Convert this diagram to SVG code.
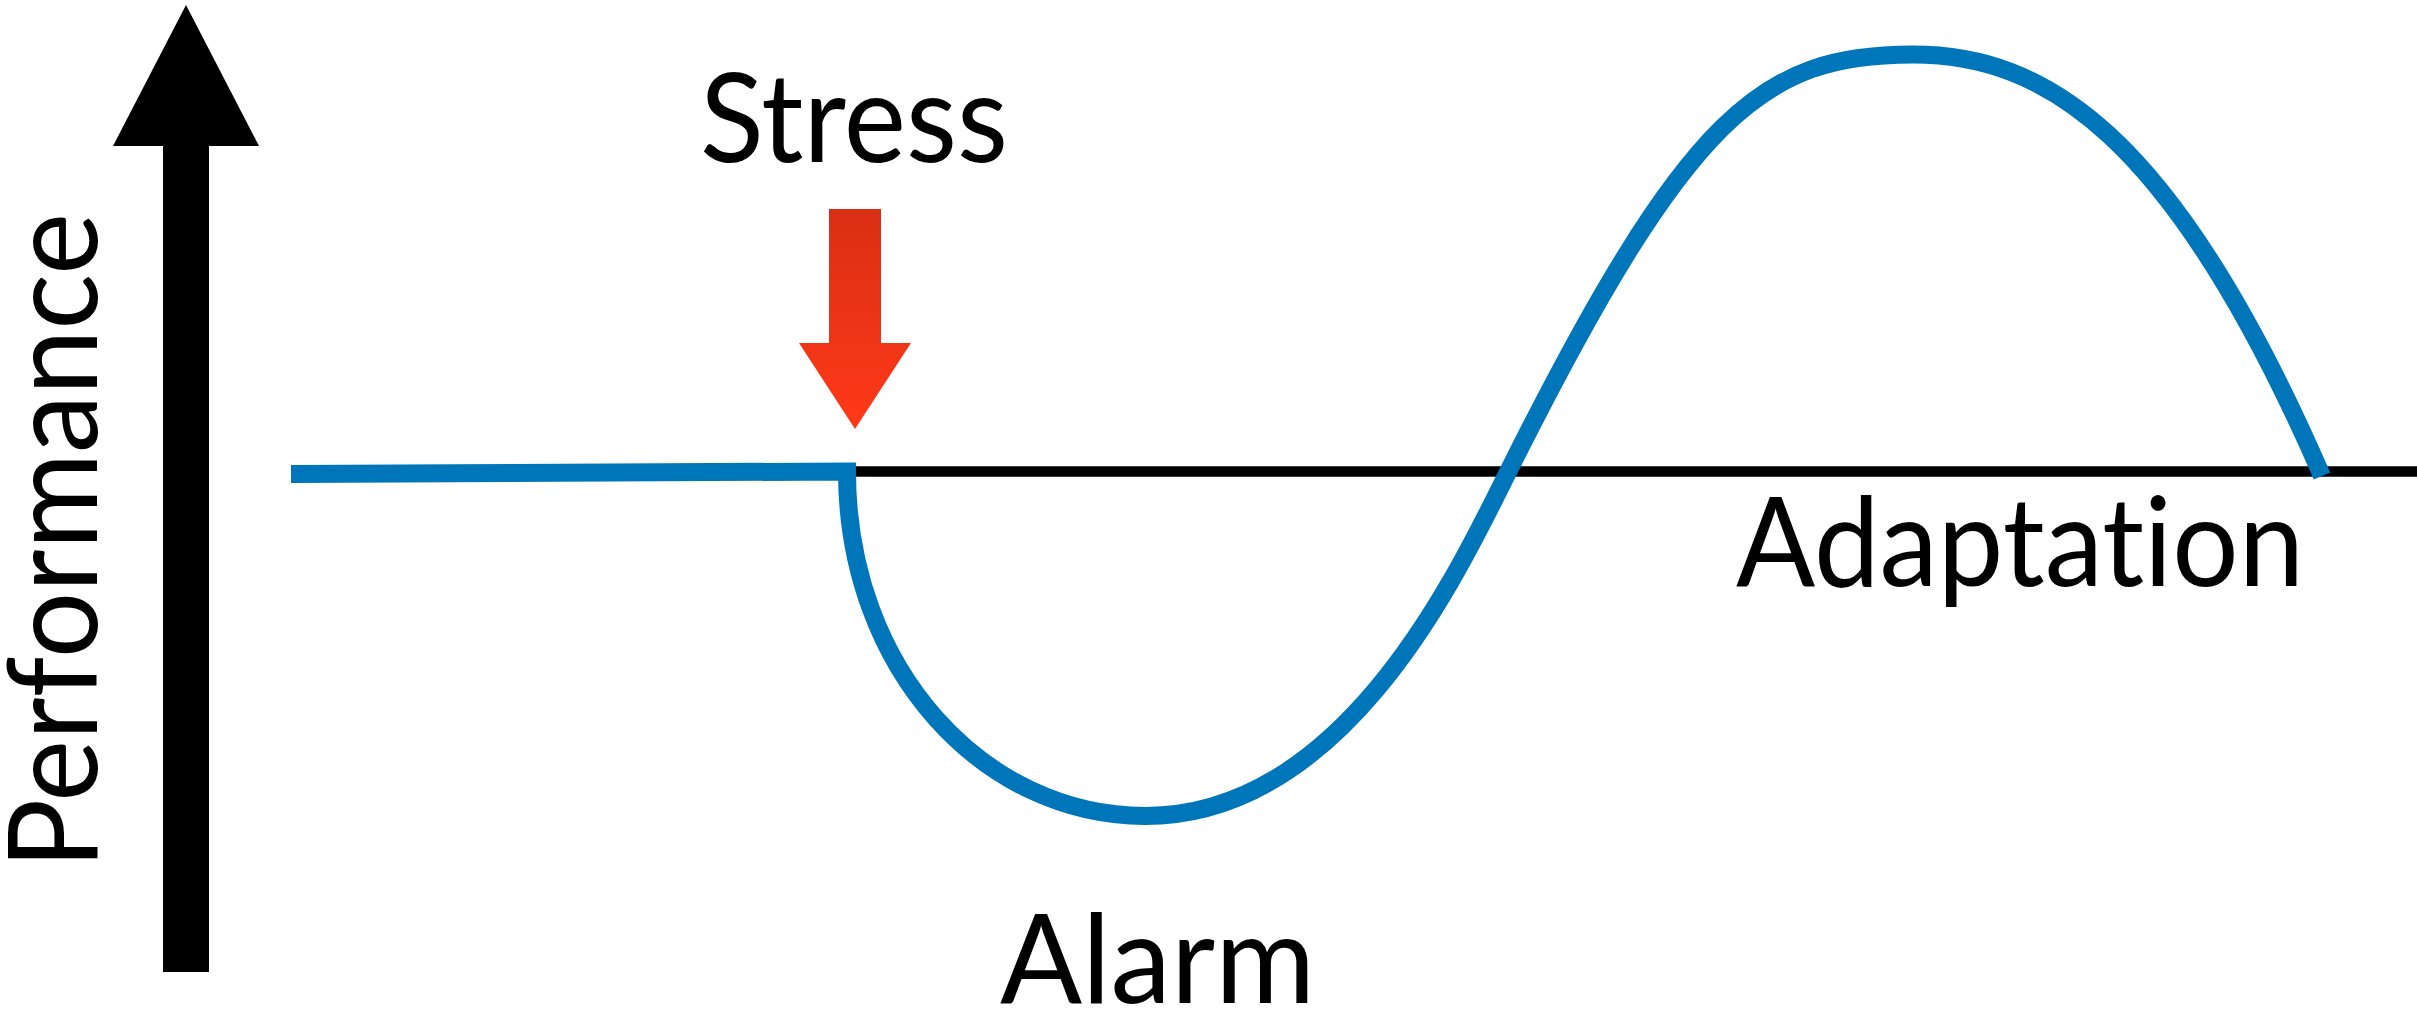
<svg xmlns="http://www.w3.org/2000/svg" width="2417" height="1015" viewBox="0 0 2417 1015">
  <defs>
    <linearGradient id="redGrad" gradientUnits="userSpaceOnUse" x1="0" y1="209" x2="0" y2="429">
      <stop offset="0" stop-color="#D92F14"/>
      <stop offset="1" stop-color="#FF3918"/>
    </linearGradient>
    <style>
      .lbl { font-family: Lato, "Liberation Sans", sans-serif; font-size: 125px; fill: #000; font-variant-ligatures: none; font-feature-settings: "liga" 0, "clig" 0; }
      .curve { fill: none; stroke: #0076BA; stroke-width: 18; stroke-linejoin: miter; stroke-linecap: butt; }
      .axisline { stroke: #000; stroke-width: 10.5; }
    </style>
  </defs>
  <rect x="0" y="0" width="2417" height="1015" fill="#fff"/>

  <g id="performance-axis">
    <polygon points="163,972 163,146 113,146 186,5 259,146 209,146 209,972" fill="#000"/>
    <text class="lbl" transform="translate(97,863) rotate(-90)" x="-6" y="0" textLength="656" lengthAdjust="spacingAndGlyphs">Performance</text>
  </g>

  <g id="stress">
    <text class="lbl" x="700" y="162" textLength="308" lengthAdjust="spacingAndGlyphs">Stress</text>
    <polygon points="829,209 881,209 881,343 911,343 855,429 799,343 829,343" fill="url(#redGrad)"/>
  </g>

  <g id="baseline">
    <line class="axisline" x1="856" y1="471.5" x2="2417" y2="471.5"/>
  </g>

  <g id="connectors">
    <path class="curve" d="M 291 474 L 847 471.5 C 847 671 985 816 1145 816 C 1345 816 1458 572 1508 472 C 1688 112 1763 54.5 1913 54.5 C 2043 54.5 2172 131 2322 476"/>
  </g>

  <g id="alarm">
    <text class="lbl" x="1000" y="1003" textLength="315" lengthAdjust="spacingAndGlyphs">Alarm</text>
  </g>

  <g id="adaptation">
    <text class="lbl" x="1736" y="586" textLength="568" lengthAdjust="spacingAndGlyphs">Adaptation</text>
  </g>
</svg>
